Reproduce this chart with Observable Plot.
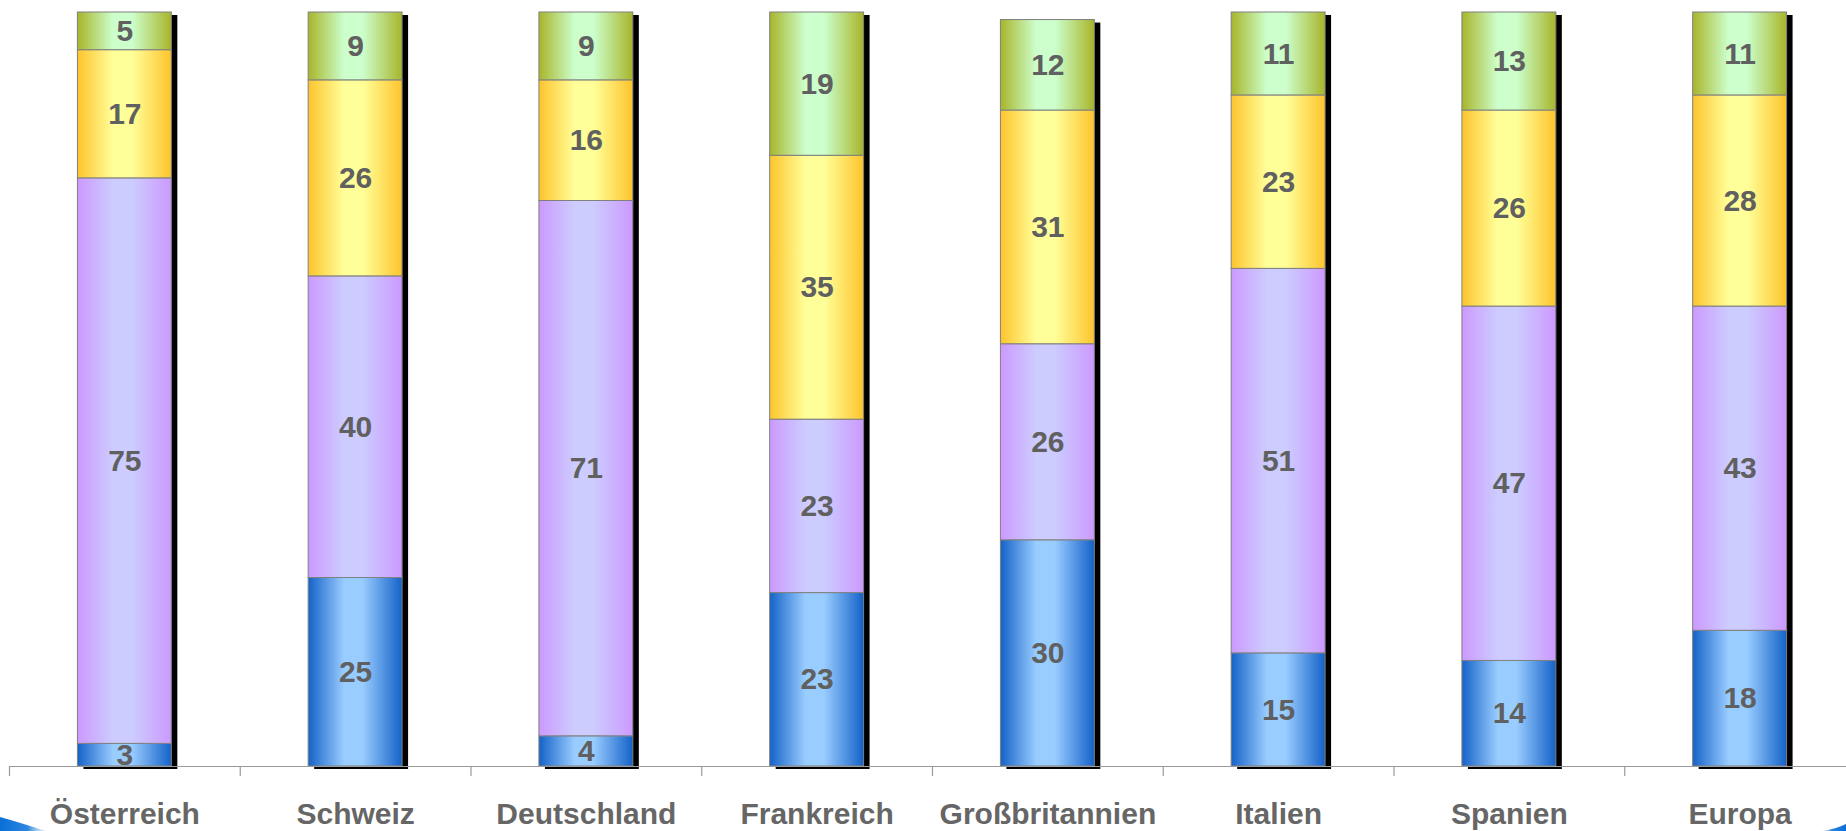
<!DOCTYPE html>
<html>
<head>
<meta charset="utf-8">
<script src="https://cdn.jsdelivr.net/npm/d3@7"></script>
<script src="https://cdn.jsdelivr.net/npm/@observablehq/plot@0.6"></script>
<style>
  html, body { margin: 0; padding: 0; background: #fff; overflow: hidden; }
  #wrap { position: relative; width: 1846px; height: 831px; overflow: hidden; }
  #deco { position: absolute; left: 0; top: 0; pointer-events: none; }
</style>
</head>
<body>
<div id="wrap"></div>
<script>
// ---- data ----
const categories = ["Österreich", "Schweiz", "Deutschland", "Frankreich", "Großbritannien", "Italien", "Spanien", "Europa"];
const blueValues   = [3, 25, 4, 23, 30, 15, 14, 18];
const purpleValues = [75, 40, 71, 23, 26, 51, 47, 43];
const yellowValues = [17, 26, 16, 35, 31, 23, 26, 28];
const greenValues  = [5, 9, 9, 19, 12, 11, 13, 11];

const seriesKeys = ["blue", "purple", "yellow", "green"];
const seriesValues = { blue: blueValues, purple: purpleValues, yellow: yellowValues, green: greenValues };

// gradient colours (edge, centre)
const gradients = {
  blue:   ["#1462c8", "#99ccff"],
  purple: ["#cc99ff", "#ccccff"],
  yellow: ["#fdc42c", "#ffff99"],
  green:  ["#a8b52a", "#ccffcc"]
};

// ---- build stacked table ----
const rows = [];
const totals = [];
categories.forEach((cat, i) => {
  let y0 = 0;
  for (const key of seriesKeys) {
    const v = seriesValues[key][i];
    rows.push({ cat, key, v, y1: y0, y2: y0 + v });
    y0 += v;
  }
  totals.push({ cat, total: y0 });
});

const W = 1846, H = 831;
const xStart = 9, xEnd = 1855;
const step = (xEnd - xStart) / categories.length;
const font = "'Liberation Sans', Arial, Helvetica, sans-serif";

const chart = Plot.plot({
  width: W,
  height: H,
  marginTop: 12,
  marginBottom: 65,
  marginLeft: 9,
  marginRight: 0,
  style: { fontFamily: font, background: "#fff", overflow: "hidden" },
  x: { domain: categories, range: [xStart, xEnd], paddingInner: 0.593, paddingOuter: 0.2965, round: false, axis: null },
  y: { domain: [0, 100], axis: null },
  marks: [
    // shadows
    Plot.barY(totals, { x: "cat", y1: 0, y2: "total", fill: "black", dx: 6, dy: 3 }),
    // segments
    ...seriesKeys.map(key =>
      Plot.barY(rows.filter(r => r.key === key), {
        x: "cat", y1: "y1", y2: "y2",
        fill: `url(#grad-${key})`,
        stroke: "#808080", strokeWidth: 1
      })
    ),
    // baseline
    Plot.ruleY([0], { stroke: "#9a9a9a", strokeWidth: 1.2 }),
    // category separator ticks
    Plot.ruleX(categories, { x: d => d, y1: 0, y2: 0, insetBottom: -10, dx: -step / 2, stroke: "#9a9a9a", strokeWidth: 1.2 }),
    // value labels
    Plot.text(rows, {
      x: "cat", y: r => (r.y1 + r.y2) / 2, text: r => String(r.v),
      fontSize: 30, fontWeight: "bold", fill: "#606060", fontFamily: font
    }),
    // category labels
    Plot.axisX({
      tickSize: 0, tickPadding: 36, label: null,
      fontSize: 30, fontWeight: "bold", fill: "#666666", fontFamily: font
    })
  ]
});

// gradients definitions
const svg = d3.select(chart.tagName.toLowerCase() === "svg" ? chart : chart.querySelector("svg"));
const defs = svg.insert("defs", ":first-child");
for (const key of seriesKeys) {
  const [edge, centre] = gradients[key];
  const g = defs.append("linearGradient").attr("id", `grad-${key}`)
    .attr("x1", 0).attr("x2", 1).attr("y1", 0).attr("y2", 0);
  [[0, edge], [0.38, centre], [0.58, centre], [1, edge]].forEach(([o, c]) =>
    g.append("stop").attr("offset", o).attr("stop-color", c));
}

document.getElementById("wrap").appendChild(chart);

// decorative swooshes in the bottom corners
const deco = d3.select("#wrap").append("svg").attr("id", "deco").attr("width", W).attr("height", H);
const dd = deco.append("defs");
const lg = dd.append("linearGradient").attr("id", "swL").attr("x1", 0).attr("x2", 1).attr("y1", 0).attr("y2", 0);
lg.append("stop").attr("offset", 0).attr("stop-color", "#0a6fd6");
lg.append("stop").attr("offset", 0.6).attr("stop-color", "#2d86de");
lg.append("stop").attr("offset", 1).attr("stop-color", "#bfe0fa").attr("stop-opacity", 0.4);
const rg = dd.append("linearGradient").attr("id", "swR").attr("x1", 1).attr("x2", 0).attr("y1", 0).attr("y2", 0);
rg.append("stop").attr("offset", 0).attr("stop-color", "#0a6fd6");
rg.append("stop").attr("offset", 0.6).attr("stop-color", "#2d86de");
rg.append("stop").attr("offset", 1).attr("stop-color", "#bfe0fa").attr("stop-opacity", 0.4);
deco.append("path").attr("d", "M0,817 Q18,822 46,831 L0,831 Z").attr("fill", "url(#swL)");
deco.append("path").attr("d", "M1822,831 Q1836,829 1846,824 L1846,831 Z").attr("fill", "url(#swR)");
</script>
</body>
</html>
